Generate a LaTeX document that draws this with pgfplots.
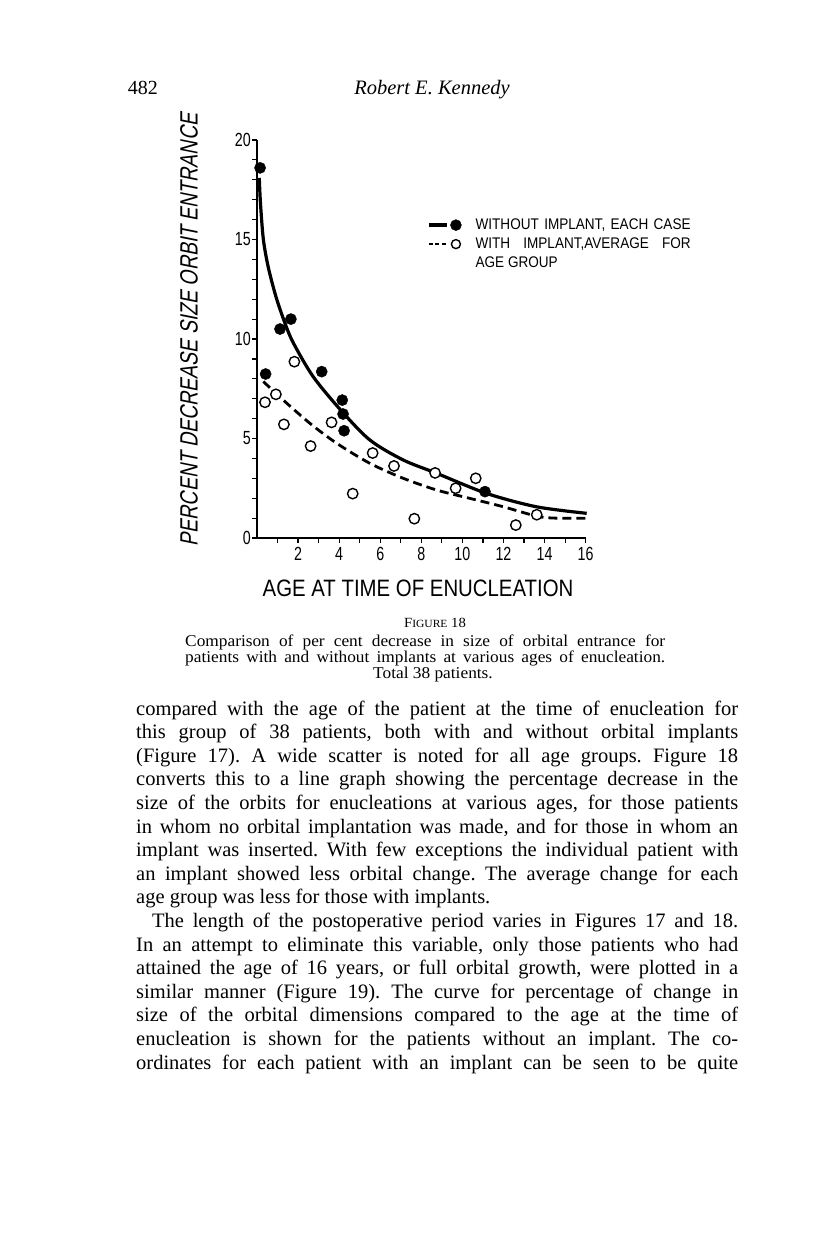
\documentclass[border=0pt]{standalone}
\usepackage{fontspec}
\setmainfont{Liberation Serif}
\usepackage{pgfplots}
\pgfplotsset{compat=1.18}
\frenchspacing
\newfontfamily\tickfont[FakeStretch=0.75]{Liberation Sans}
\newfontfamily\ylabfont[FakeStretch=0.78,FakeSlant=0.2]{Liberation Sans}
\newfontfamily\xlabfont[FakeStretch=0.86]{Liberation Sans}
\newfontfamily\legfont[FakeStretch=0.88]{Liberation Sans}
\newfontfamily\capfont[FakeStretch=1.05]{Liberation Serif}
\newfontfamily\bodyfam{Liberation Serif}
\newcommand\bodyfont{\bodyfam\fontsize{20.5}{23.6}\selectfont}
\newcommand\bodyline[3]{\node[anchor=base west, inner sep=0pt, font=\bodyfont] at (#1pt,{-715pt-(#2)*23.6pt}) {#3};}
\begin{document}
\begin{tikzpicture}
\path[use as bounding box] (0pt,0pt) rectangle (816pt,-1257pt);
% header
\node[anchor=base east, inner sep=0pt, font=\fontsize{20}{20}\selectfont] at (158pt,-95pt) {482};
\node[anchor=base, inner sep=0pt, font=\fontsize{20.5}{20.5}\selectfont\itshape] at (432pt,-95pt) {Robert E. Kennedy};

\begin{axis}[
  at={(257pt,-538pt)}, anchor=origin,
  x=20.54pt, y=19.9pt,
  xmin=0, xmax=16, ymin=0, ymax=20,
  axis x line*=bottom, axis y line*=left,
  axis line style={line width=1.4pt},
  xtick={2,4,...,16}, minor xtick={1,3,...,15},
  ytick={0,5,10,15,20}, minor ytick={1,2,3,4,6,7,8,9,11,12,13,14,16,17,18,19},
  tick align=outside, major tick length=5pt, minor tick length=5pt,
  tick style={black, line width=1.2pt},
  clip=false,
  /pgf/number format/assume math mode=true,
  tick label style={font=\tickfont\fontsize{19}{19}\selectfont, inner sep=1pt},
  xticklabel style={yshift=-3pt},
  legend style={draw=none, fill=none, at={(0.5172,0.803)}, anchor=north west,
    inner sep=0pt, row sep=6pt, column sep=14pt,
    font=\legfont\fontsize{15.4}{15.4}\selectfont,
    nodes={inner sep=0pt, text height=11pt, text depth=2pt},
    cells={anchor=west}},
]
\addplot[black, line width=3.2pt, smooth, no markers, forget plot] coordinates {
 (0.11,18.1) (0.17,16.8) (0.31,15.0) (0.55,13.6) (0.93,12.1) (1.36,10.8) (1.77,9.8)
 (2.74,8.1) (4.1,6.4) (5.5,4.92) (7.12,3.92) (8.75,3.25) (11.18,2.24)
 (13.6,1.57) (16.05,1.24)};
\addplot[black, line width=2.8pt, smooth, no markers, dash pattern=on 9pt off 5pt, forget plot] coordinates {
 (0.31,7.86) (1.28,6.93) (2.58,5.76) (3.88,4.76) (5.5,3.75) (7.12,3.0) (8.75,2.41)
 (10.37,1.99) (11.99,1.57) (13.6,1.1) (14.5,1.0) (16.05,0.99)};
% with implant (open circles)
\addplot[only marks, mark=*, mark size=5.2pt, forget plot,
  mark options={draw=black, fill=white, line width=1.4pt}] coordinates {
 (0.39,6.82) (0.92,7.22) (1.82,8.86) (1.31,5.71) (2.61,4.62) (3.63,5.81) (4.66,2.23)
 (5.63,4.27) (6.67,3.62) (7.66,0.97) (8.67,3.27) (9.67,2.50) (10.65,3.00) (12.6,0.65)
 (13.62,1.17)};
% without implant (filled circles)
\addplot[only marks, mark=*, mark size=5.6pt, black, forget plot] coordinates {
 (0.15,18.6) (1.12,10.5) (1.65,11.0) (0.42,8.24) (3.15,8.36) (4.15,6.93) (4.19,6.23)
 (4.24,5.39) (11.1,2.33)};
\addlegendimage{legend image code/.code={\draw[line width=3.5pt] (0pt,0pt)--(18pt,0pt); \fill (27pt,0pt) circle (5.5pt);}}
\addlegendentry{\makebox[215pt][s]{WITHOUT IMPLANT, EACH CASE}}
\addlegendimage{legend image code/.code={\draw[line width=2.5pt, dash pattern=on 4pt off 2.5pt] (0pt,0pt)--(19pt,0pt); \draw[line width=1.4pt] (27pt,0pt) circle (4.5pt);}}
\addlegendentry{\makebox[215pt][s]{WITH IMPLANT,AVERAGE FOR}}
\addlegendimage{empty legend}
\addlegendentry{AGE GROUP}
\end{axis}

% axis labels
\node[rotate=90, inner sep=0pt, font=\ylabfont\fontsize{25}{25}\selectfont] at (189pt,-330pt) {PERCENT DECREASE SIZE ORBIT ENTRANCE};
\node[inner sep=0pt, font=\xlabfont\fontsize{23.7}{23.7}\selectfont] at (418pt,-588pt) {AGE AT TIME OF ENUCLEATION};

% caption
\node[anchor=base, inner sep=0pt, font=\capfont\fontsize{14}{14}\selectfont] at (435pt,-627pt) {F{\fontsize{11}{11}\selectfont IGURE} 18};
\node[anchor=base west, inner sep=0pt, font=\capfont\fontsize{16.5}{16}\selectfont] at (185pt,-646.5pt) {\makebox[480pt][s]{Comparison of per cent decrease in size of orbital entrance for}};
\node[anchor=base west, inner sep=0pt, font=\capfont\fontsize{16.5}{16}\selectfont] at (185pt,-662.5pt) {\makebox[480pt][s]{patients with and without implants at various ages of enucleation.}};
\node[anchor=base, inner sep=0pt, font=\capfont\fontsize{16.5}{16}\selectfont] at (433pt,-678.5pt) {Total 38 patients.};

% body text
\bodyline{136}{0}{\makebox[602pt][s]{compared with the age of the patient at the time of enucleation for}}
\bodyline{136}{1}{\makebox[602pt][s]{this group of 38 patients, both with and without orbital implants}}
\bodyline{136}{2}{\makebox[602pt][s]{(Figure 17). A wide scatter is noted for all age groups. Figure 18}}
\bodyline{136}{3}{\makebox[602pt][s]{converts this to a line graph showing the percentage decrease in the}}
\bodyline{136}{4}{\makebox[602pt][s]{size of the orbits for enucleations at various ages, for those patients}}
\bodyline{136}{5}{\makebox[602pt][s]{in whom no orbital implantation was made, and for those in whom an}}
\bodyline{136}{6}{\makebox[602pt][s]{implant was inserted. With few exceptions the individual patient with}}
\bodyline{136}{7}{\makebox[602pt][s]{an implant showed less orbital change. The average change for each}}
\bodyline{136}{8}{age group was less for those with implants.}
\bodyline{152}{9}{\makebox[586pt][s]{The length of the postoperative period varies in Figures 17 and 18.}}
\bodyline{136}{10}{\makebox[602pt][s]{In an attempt to eliminate this variable, only those patients who had}}
\bodyline{136}{11}{\makebox[602pt][s]{attained the age of 16 years, or full orbital growth, were plotted in a}}
\bodyline{136}{12}{\makebox[602pt][s]{similar manner (Figure 19). The curve for percentage of change in}}
\bodyline{136}{13}{\makebox[602pt][s]{size of the orbital dimensions compared to the age at the time of}}
\bodyline{136}{14}{\makebox[602pt][s]{enucleation is shown for the patients without an implant. The co-}}
\bodyline{136}{15}{\makebox[602pt][s]{ordinates for each patient with an implant can be seen to be quite}}
\end{tikzpicture}
\end{document}
